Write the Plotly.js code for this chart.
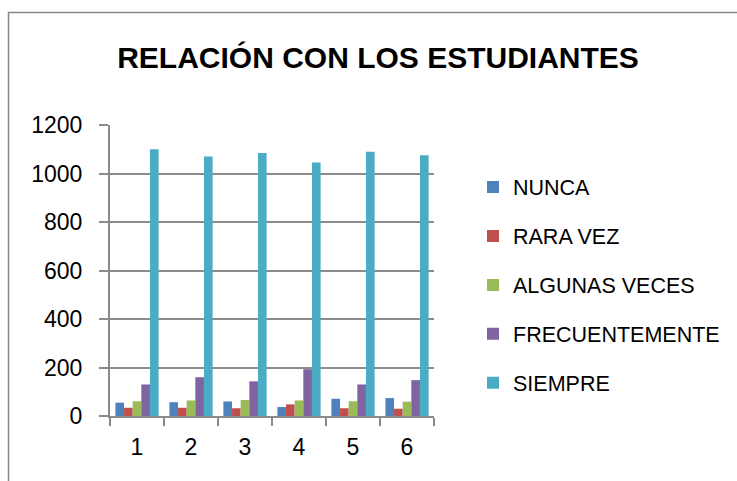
<!DOCTYPE html>
<html>
<head>
<meta charset="utf-8">
<script src="https://cdn.plot.ly/plotly-3.0.1.min.js"></script>
<style>html,body{margin:0;padding:0;background:#fff;}#chart{width:737px;height:481px;}</style>
</head>
<body>
<div id="chart"></div>
<script>
var categories = ['1', '2', '3', '4', '5', '6'];
var seriesNames = ['NUNCA', 'RARA VEZ', 'ALGUNAS VECES', 'FRECUENTEMENTE', 'SIEMPRE'];
var nunca = [55, 57, 60, 37, 71, 74];
var raraVez = [34, 34, 32, 48, 32, 30];
var algunasVeces = [61, 64, 66, 64, 61, 59];
var frecuentemente = [130, 160, 143, 193, 130, 148];
var siempre = [1100, 1070, 1085, 1045, 1090, 1075];
var yTicks = [0, 200, 400, 600, 800, 1000, 1200];

var colors = ['#4F81BD', '#C0504D', '#9BBB59', '#8064A2', '#4BACC6'];
var seriesValues = [nunca, raraVez, algunasVeces, frecuentemente, siempre];

var FONT = 'Liberation Sans, Arial, sans-serif';

var traces = seriesValues.map(function (vals, i) {
  return {
    type: 'bar',
    name: seriesNames[i],
    x: categories,
    y: vals,
    legendgroup: 'g' + i,
    marker: { color: colors[i], line: { width: 0 } },
    hoverinfo: 'x+y+name'
  };
});

// plot area geometry (pixels) used for paper-coordinate placement
var L = 110, R = 303, T = 125, B = 65;
var W = 737 - L - R, H = 481 - T - B;
function px(x) { return (x - L) / W; }
function py(y) { return (481 - B - y) / H; }

var layout = {
  width: 737,
  height: 481,
  margin: { l: L, r: R, t: T, b: B, pad: 0 },
  paper_bgcolor: '#ffffff',
  plot_bgcolor: '#ffffff',
  font: { family: FONT, color: '#000000', size: 21 },
  title: {
    text: '<b>RELACIÓN CON LOS ESTUDIANTES</b>',
    font: { family: FONT, size: 30, color: '#000000' },
    x: 378 / 737,
    xanchor: 'center',
    xref: 'container',
    y: 1 - 57 / 481,
    yanchor: 'middle',
    yref: 'container'
  },
  barmode: 'group',
  bargap: 0.2,
  bargroupgap: 0,
  xaxis: {
    type: 'category',
    showgrid: false,
    showline: true,
    linecolor: '#8a8a8a',
    linewidth: 2,
    ticks: 'outside',
    tickson: 'boundaries',
    ticklen: 8,
    tickwidth: 2,
    tickcolor: '#8a8a8a',
    ticklabelstandoff: 9,
    tickfont: { family: FONT, size: 23, color: '#000000' },
    zeroline: false
  },
  yaxis: {
    range: [0, 1200],
    tickmode: 'array',
    tickvals: yTicks,
    ticktext: yTicks.map(String),
    showgrid: true,
    gridcolor: '#8c8c8c',
    gridwidth: 2,
    showline: true,
    linecolor: '#8a8a8a',
    linewidth: 2,
    ticks: 'outside',
    ticklen: 9,
    tickwidth: 2,
    tickcolor: '#8a8a8a',
    ticklabelstandoff: 12,
    tickfont: { family: FONT, size: 23, color: '#000000' },
    zeroline: false
  },
  legend: {
    x: px(473),
    xanchor: 'left',
    y: py(285),
    yanchor: 'middle',
    font: { family: FONT, size: 21.5, color: '#000000' },
    tracegroupgap: 18,
    traceorder: 'grouped',
    bgcolor: 'rgba(0,0,0,0)'
  },
  shapes: [{
    type: 'rect',
    xref: 'paper',
    yref: 'paper',
    x0: px(8.5),
    x1: px(745),
    y0: py(490),
    y1: py(12.5),
    line: { color: '#888888', width: 1.5 },
    fillcolor: 'rgba(0,0,0,0)',
    layer: 'below'
  }],
  showlegend: true
};

Plotly.newPlot('chart', traces, layout, { displayModeBar: false, staticPlot: true });
</script>
</body>
</html>
